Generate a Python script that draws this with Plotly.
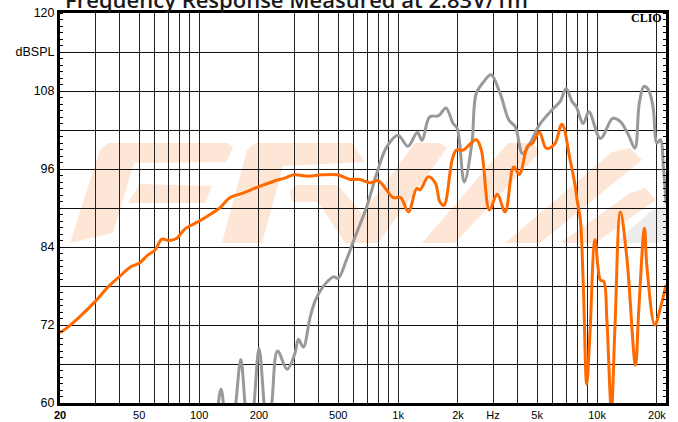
import plotly.graph_objects as go

# ---------------- data ----------------
orange_freq = [20, 22, 25, 30, 35, 40, 45, 50, 55, 60, 65, 70, 77, 85, 99, 111, 127, 143, 166, 200,
               241, 270, 300, 353, 413, 494, 574, 644, 722, 794, 874, 943, 1030, 1127, 1240, 1290,
               1420, 1540, 1620, 1700, 1870, 1960, 2120, 2470, 2620, 2880, 3150, 3450, 3810, 4070,
               4480, 4750, 5130, 5550, 6110, 6660, 7310, 7750, 7940, 8240, 8530, 8870, 9210, 9770,
               10400, 10800, 11200, 11800, 12300, 13100, 14100, 15600, 16200, 17300, 17800, 19500,
               20800, 22200]
orange_db = [70.8, 71.7, 73.2, 75.6, 77.9, 79.5, 80.9, 81.5, 82.7, 83.5, 85.2, 85.0, 85.3, 86.8, 87.9,
             88.8, 90.0, 91.6, 92.3, 93.3, 94.2, 94.6, 95.1, 94.9, 95.1, 95.1, 94.4, 94.4, 93.9, 94.2,
             92.8, 91.6, 91.6, 89.4, 93.0, 92.8, 94.8, 93.8, 91.0, 90.4, 97.4, 98.9, 98.9, 100.5, 98.9,
             89.7, 92.1, 89.4, 96.3, 95.2, 99.5, 100.0, 101.7, 99.2, 99.8, 102.9, 97.5, 93.5, 91.2,
             88.2, 77.9, 62.9, 70.7, 85.1, 78.9, 78.7, 72.8, 59.0, 71.7, 89.4, 82.5, 65.8, 74.3, 86.9,
             81.0, 72.0, 74.6, 78.2]

gray_freq = [110, 121, 129, 137, 145, 153, 162, 170, 176, 186, 200, 212, 220, 232, 248, 277, 303, 316,
             334, 362, 384, 420, 473, 500, 550, 600, 696, 781, 877, 1000, 1120, 1250, 1320, 1440, 1600,
             1740, 1890, 1980, 2150, 2350, 2470, 2690, 2930, 3260, 3610, 3880, 4220, 4610, 5130, 6020,
             6530, 6990, 7480, 7850, 8520, 9100, 10400, 12000, 13100, 14400, 15500, 16300, 17200, 18100,
             19100, 20000, 20800, 21600, 22200]
gray_db = [52, 57, 62.1, 56, 54, 60, 66.7, 60, 55, 58, 68.4, 60, 55, 60, 68.0, 65.2, 67.6, 69.8, 68.6,
           73.3, 75.8, 77.9, 79.4, 79.2, 82.0, 85.1, 90.2, 95.3, 99.4, 101.2, 99.5, 101.6, 100.4, 104.0,
           104.2, 105.4, 103.0, 102.3, 94.0, 100.0, 107.6, 109.4, 110.5, 107.6, 103.5, 102.5, 98.4,
           100.0, 102.8, 105.3, 106.4, 108.4, 106.4, 105.6, 103.0, 104.8, 100.7, 103.8, 103.3, 101.2,
           99.2, 106.1, 108.7, 108.2, 105.6, 100.0, 100.5, 95.8, 90.7]

x_tick_vals = [20, 30, 40, 50, 60, 70, 80, 90, 100, 200, 300, 400, 500, 600, 700, 800, 900,
               1000, 2000, 3000, 4000, 5000, 6000, 7000, 8000, 9000, 10000, 20000]
x_tick_text = ["<b>20</b>", "", "", "50", "", "", "", "", "100", "200", "", "", "500", "", "", "", "",
               "1k", "2k", "Hz", "", "5k", "", "", "", "", "10k", "20k"]
y_tick_vals = [60, 66, 72, 78, 84, 90, 96, 102, 108, 114, 120]
y_tick_text = ["60", "", "72", "", "84", "", "96", "", "108", "dBSPL", "120"]

title_text = "Frequency Response Measured at 2.83V/1m"

# ---------------- figure ----------------
W, H = 678, 422
L, R, T, B = 60, 12, 13, 19
PW, PH = W - L - R, H - T - B

def px(x):
    return (x - L) / PW

def py(y):
    return (H - B - y) / PH

fig = go.Figure()
fig.add_trace(go.Scatter(x=gray_freq, y=gray_db, mode="lines",
                         line=dict(color="#999999", width=3, shape="spline", smoothing=1.0),
                         hoverinfo="skip", showlegend=False))
fig.add_trace(go.Scatter(x=orange_freq, y=orange_db, mode="lines",
                         line=dict(color="#ff6a00", width=3, shape="spline", smoothing=1.0),
                         hoverinfo="skip", showlegend=False))

# watermark logo (decoration, pixel-based polygons)
peach = "#fde6d6"
logo = [
    ([(70, 243), (113, 233), (134, 163), (226, 162), (233, 148), (228, 143), (108, 143), (100, 150)], peach),
    ([(128, 203), (205, 203), (212, 186), (140, 184)], peach),
    ([(222, 243), (262, 243), (283, 166), (365, 162), (352, 143), (255, 143), (247, 150)], peach),
    ([(292, 202), (318, 202), (345, 243), (378, 243), (447, 148), (440, 143), (415, 143), (362, 214),
      (338, 185), (296, 185), (290, 192)], peach),
    ([(422, 243), (455, 243), (540, 152), (533, 143), (508, 143)], peach),
    ([(505, 243), (540, 243), (642, 160), (630, 148), (612, 152)], peach),
    ([(560, 243), (595, 243), (656, 200), (645, 188), (630, 193)], peach),
    ([(615, 243), (660, 243), (666, 238), (666, 205), (650, 212)], "#ececec"),
]
for pts, col in logo:
    path = "M " + " L ".join(f"{px(x):.4f},{py(y):.4f}" for x, y in pts) + " Z"
    fig.add_shape(type="path", path=path, xref="paper", yref="paper",
                  fillcolor=col, line=dict(width=0), layer="below")

fig.add_annotation(text=title_text, x=px(296), y=py(16), xref="paper", yref="paper",
                   xanchor="center", yanchor="bottom", showarrow=False,
                   font=dict(family="Open Sans", size=22, color="#1a1a1a", weight=600))
fig.add_annotation(text="<b>CLIO</b>", x=px(646), y=py(18), xref="paper", yref="paper",
                   xanchor="center", yanchor="middle", showarrow=False,
                   font=dict(family="Liberation Serif", size=12, color="#000000"))

fig.update_layout(
    width=W, height=H,
    margin=dict(l=L, r=R, t=T, b=B, pad=0, autoexpand=False),
    paper_bgcolor="white", plot_bgcolor="white",
    showlegend=False,
    xaxis=dict(type="log", range=[1.30103, 4.3464], tickvals=x_tick_vals, ticktext=x_tick_text,
               showgrid=True, gridcolor="#222222", gridwidth=1, ticks="", automargin=False,
               showline=True, linecolor="black", linewidth=3, mirror=True,
               tickfont=dict(family="Liberation Sans", size=11, color="#000000"),
               zeroline=False, fixedrange=True),
    yaxis=dict(range=[60, 120], tickvals=y_tick_vals, ticktext=y_tick_text,
               showgrid=True, gridcolor="#111111", gridwidth=1, ticks="", automargin=False,
               minor=dict(dtick=1, ticks="inside", ticklen=3, tickcolor="black", tickwidth=1, showgrid=False),
               showline=True, linecolor="black", linewidth=3, mirror="allticks",
               tickfont=dict(family="Liberation Sans", size=12.5, color="#000000"),
               zeroline=False, fixedrange=True),
)

fig.write_html("out.html", config={"displayModeBar": False, "staticPlot": True},
               post_script="document.body.style.margin='0';document.body.style.overflow='hidden';")
